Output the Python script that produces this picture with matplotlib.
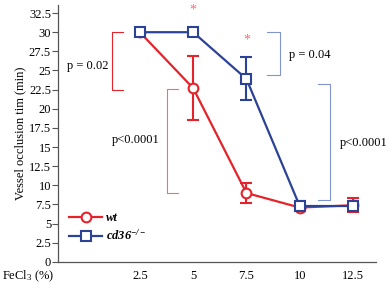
import matplotlib
matplotlib.use('Agg')
import matplotlib.pyplot as plt
from matplotlib.lines import Line2D

plt.rcParams['font.family'] = ['Liberation Serif', 'DejaVu Serif']
plt.rcParams['mathtext.fontset'] = 'custom'
plt.rcParams['mathtext.rm'] = 'Liberation Serif'
plt.rcParams['mathtext.it'] = 'Liberation Serif:italic'
plt.rcParams['mathtext.bf'] = 'Liberation Serif:bold:italic'

fecl3 = [2.5, 5, 7.5, 10, 12.5]
wt_mean = [30, 22.7, 9.0, 7.1, 7.4]
wt_err = [0, 4.2, 1.25, 0.5, 0.9]
cd36_mean = [30, 30, 23.9, 7.3, 7.3]
cd36_err = [0, 0, 2.8, 0.6, 0.6]
yticks = [0, 2.5, 5, 7.5, 10, 12.5, 15, 17.5, 20, 22.5, 25, 27.5, 30, 32.5]

red = '#e4232b'
blue = '#2b4296'
red_l = '#e8707a'
blue_l = '#8095cc'

fig = plt.figure(figsize=(3.88, 2.85), dpi=100)
ax = fig.add_axes([0.1495, 0.081, 0.8196, 0.90])

ax.errorbar(fecl3, wt_mean, yerr=wt_err, color=red, lw=1.6, marker='o', ms=7,
            mfc='white', mec=red, mew=1.5, capsize=4, capthick=1.5, elinewidth=1.5,
            zorder=3)
ax.errorbar(fecl3, cd36_mean, yerr=cd36_err, color=blue, lw=1.6, marker='s', ms=7.5,
            mfc='white', mec=blue, mew=1.5, capsize=4, capthick=1.5, elinewidth=1.5,
            zorder=4)

# brackets
ax.plot([1.70, 1.19, 1.19, 1.70], [30, 30, 22.5, 22.5], color=red, lw=0.8)
ax.plot([4.28, 3.77, 3.77, 4.28], [22.6, 22.6, 9.0, 9.0], color=red_l, lw=0.8)
ax.plot([8.45, 9.06, 9.06, 8.45], [30, 30, 24.4, 24.4], color=blue_l, lw=0.8)
ax.plot([10.85, 11.40, 11.40, 10.85], [23.2, 23.2, 8.1, 8.1], color=blue_l, lw=0.8)

ax.text(0.06, 25.6, 'p = 0.02', ha='center', va='center', fontsize=9)
ax.text(2.31, 15.9, 'p<0.0001', ha='center', va='center', fontsize=9)
ax.text(10.47, 27.0, 'p = 0.04', ha='center', va='center', fontsize=9)
ax.text(13.0, 15.5, 'p<0.0001', ha='center', va='center', fontsize=9, clip_on=False)
ax.text(5, 32.9, '*', ha='center', va='center', fontsize=10, color=red_l)
ax.text(7.5, 29.0, '*', ha='center', va='center', fontsize=10, color=red_l)

ax.set_xlim(-1.34, 13.58)
ax.set_ylim(0, 33.5)
ax.set_yticks(yticks)
ax.set_yticklabels(['0', '2.5', '5', '7.5', '10', '12.5', '15', '17.5', '20',
                    '22.5', '25', '27.5', '30', '32.5'])
ax.set_xticks(fecl3)
ax.set_xticklabels(['2.5', '5', '7.5', '10', '12.5'])
ax.tick_params(axis='x', length=0, labelsize=9, pad=6)
ax.tick_params(axis='y', length=4, labelsize=9, pad=1, color='#555555')
for s in ['top', 'right']:
    ax.spines[s].set_visible(False)
for s in ['left', 'bottom']:
    ax.spines[s].set_color('#555555')
    ax.spines[s].set_linewidth(0.9)

ax.set_ylabel('Vessel occlusion tim (min)', fontsize=9, labelpad=2)
fig.text(0.005, 0.03, 'FeCl$_3$ (%)', ha='left', va='center', fontsize=9)

handles = [Line2D([], [], color=red, lw=1.6, marker='o', ms=7, mfc='white', mew=1.5),
           Line2D([], [], color=blue, lw=1.6, marker='s', ms=7.5, mfc='white', mew=1.5)]
ax.legend(handles, ['wt', 'cd36$^{\\mathbf{-/-}}$'], loc='lower left',
          bbox_to_anchor=(0.0, 0.03), frameon=False,
          handlelength=2.6, handletextpad=0.3, labelspacing=0.35,
          prop={'style': 'italic', 'weight': 'bold', 'size': 9})

fig.savefig('out.png', dpi=100)
